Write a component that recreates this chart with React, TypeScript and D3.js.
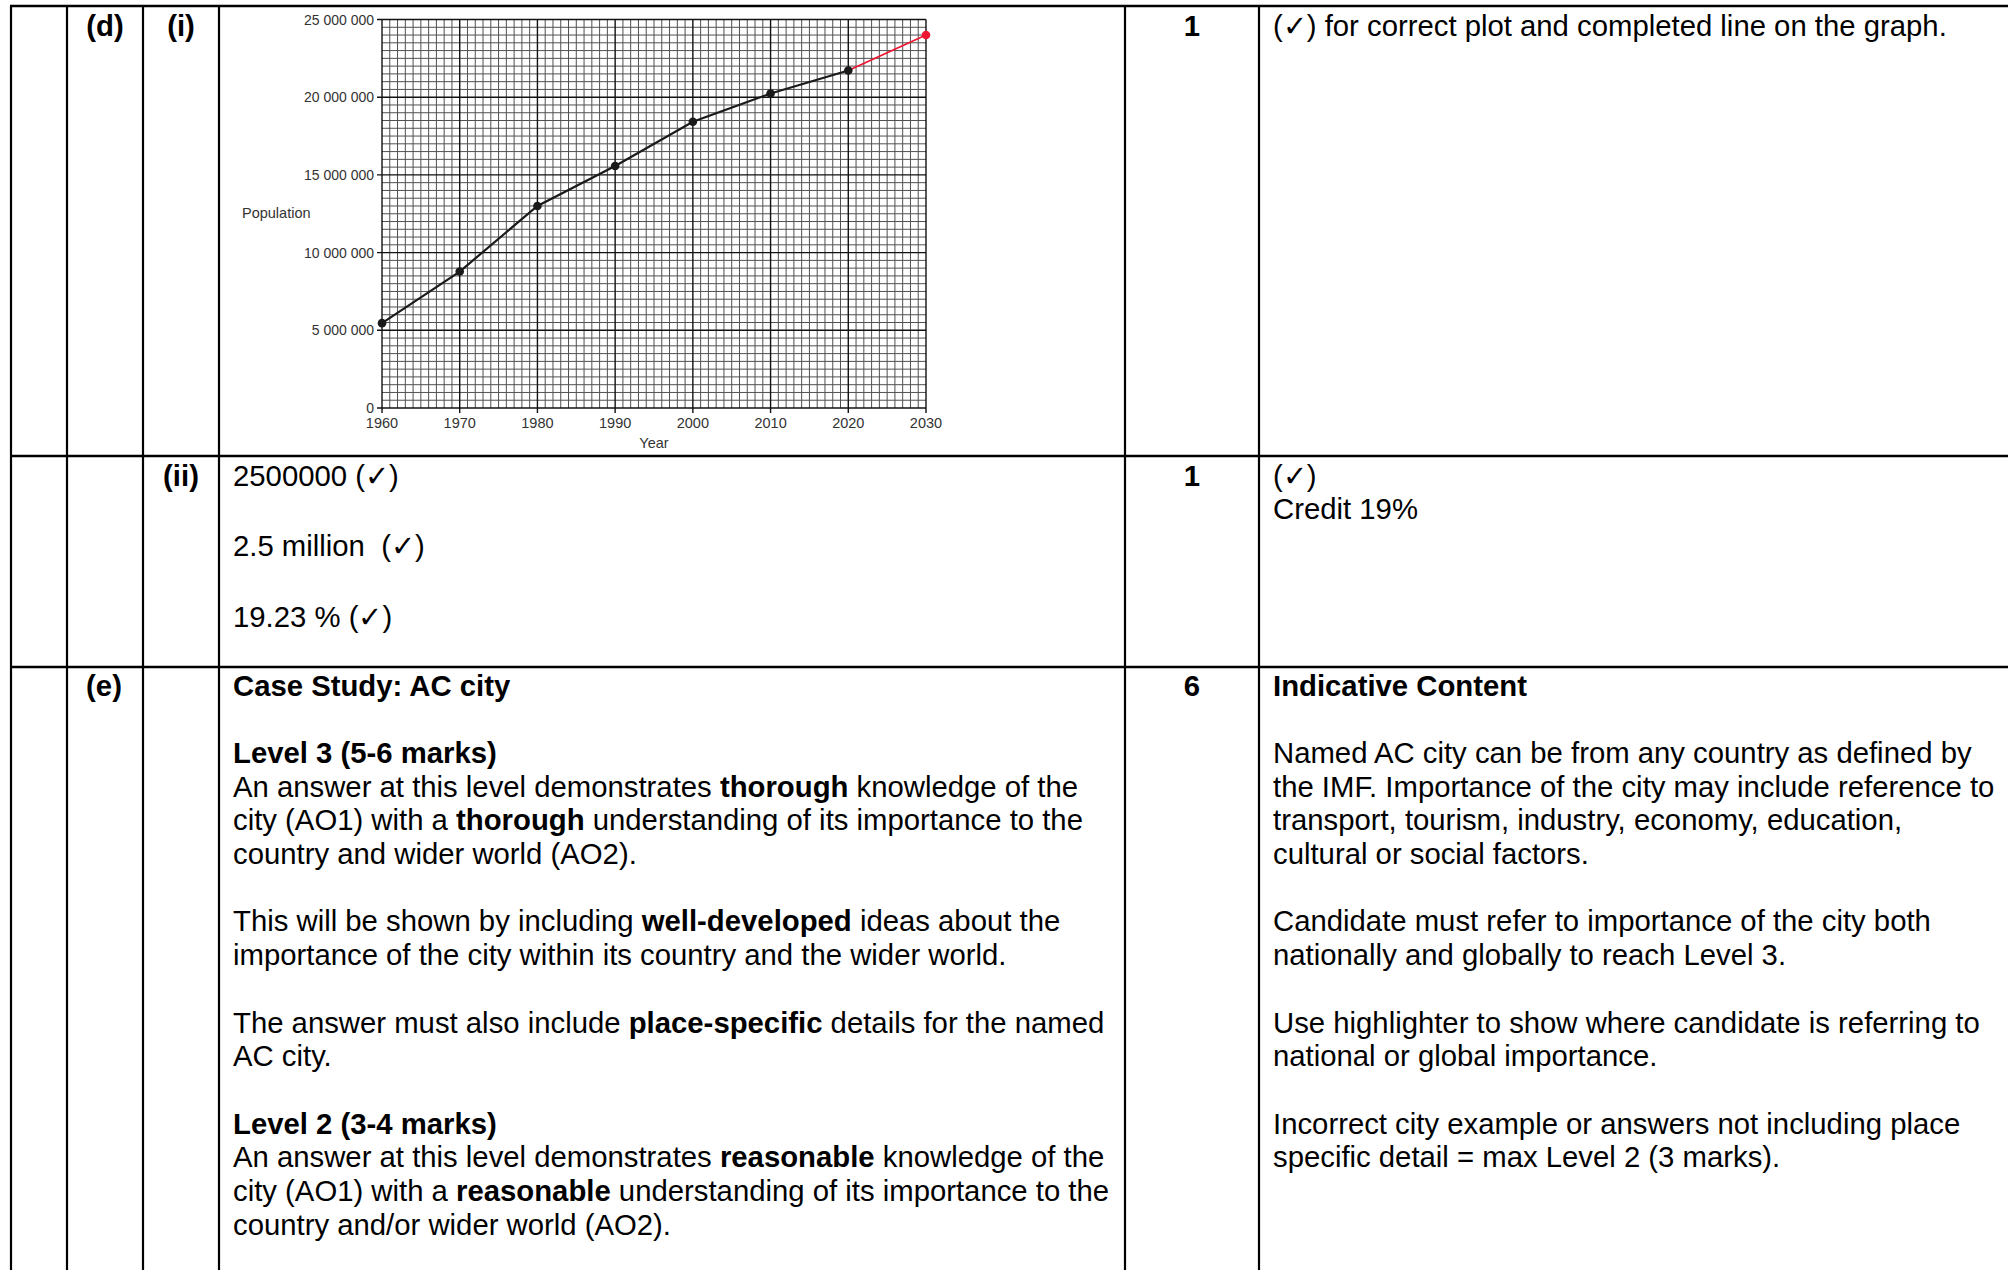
import React from "react";
import * as d3 from "d3";

// ---- chart data ----
const years = [1960, 1970, 1980, 1990, 2000, 2010, 2020];
const population = [5460000, 8780000, 13000000, 15570000, 18420000, 20240000, 21720000];
const projYears = [2020, 2030];
const projPopulation = [21720000, 24000000];
const xTicks = [1960, 1970, 1980, 1990, 2000, 2010, 2020, 2030];
const yTicks = [0, 5000000, 10000000, 15000000, 20000000, 25000000];

// ---- table text ----
const row1Marks = "1";
const row1Guidance = ["(✓) for correct plot and completed line on the graph."];
const row2Answers = ["2500000 (✓)", "2.5 million  (✓)", "19.23 % (✓)"];
const row2Guidance = ["(✓)", "Credit 19%"];
const row3Answer: [number, string][] = [
  [0, "**Case Study: AC city**"],
  [2, "**Level 3 (5-6 marks)**"],
  [3, "An answer at this level demonstrates **thorough** knowledge of the"],
  [4, "city (AO1) with a **thorough** understanding of its importance to the"],
  [5, "country and wider world (AO2)."],
  [7, "This will be shown by including **well-developed** ideas about the"],
  [8, "importance of the city within its country and the wider world."],
  [10, "The answer must also include **place-specific** details for the named"],
  [11, "AC city."],
  [13, "**Level 2 (3-4 marks)**"],
  [14, "An answer at this level demonstrates **reasonable** knowledge of the"],
  [15, "city (AO1) with a **reasonable** understanding of its importance to the"],
  [16, "country and/or wider world (AO2)."],
];
const row3Guidance: [number, string][] = [
  [0, "**Indicative Content**"],
  [2, "Named AC city can be from any country as defined by"],
  [3, "the IMF. Importance of the city may include reference to"],
  [4, "transport, tourism, industry, economy, education,"],
  [5, "cultural or social factors."],
  [7, "Candidate must refer to importance of the city both"],
  [8, "nationally and globally to reach Level 3."],
  [10, "Use highlighter to show where candidate is referring to"],
  [11, "national or global importance."],
  [13, "Incorrect city example or answers not including place"],
  [14, "specific detail = max Level 2 (3 marks)."],
];

const FONT = "'Liberation Sans', Arial, sans-serif";
const FS = 29.3;
const LH = 33.7;

function RichLine({ x, y, text, anchor }: { x: number; y: number; text: string; anchor?: string }) {
  const parts = text.split("**");
  return (
    <text x={x} y={y} fontFamily={FONT} fontSize={FS} fill="#000" textAnchor={anchor || "start"} xmlSpace="preserve" style={{ whiteSpace: "pre" }}>
      {parts.map((p, i) => (
        <tspan key={i} fontWeight={i % 2 === 1 ? "bold" : "normal"}>{p}</tspan>
      ))}
    </text>
  );
}

export default function App() {
  const W = 2008, H = 1270;
  const colX = [11, 67, 143, 219, 1125, 1259];
  const rowY = [6, 456, 667];

  const x = d3.scaleLinear().domain([1960, 2030]).range([382, 926]);
  const y = d3.scaleLinear().domain([0, 25000000]).range([408, 19.5]);

  const gridYears = d3.range(1960, 2031, 1);
  const gridVals = d3.range(0, 25000001, 500000);

  const line = d3.line<number>().x((_, i) => x(years[i])).y((d) => y(d));
  const projLine = d3.line<number>().x((_, i) => x(projYears[i])).y((d) => y(d));
  const fmt = (v: number) => d3.format(",")(v).replace(/,/g, " ");

  const r3base = 695.5;

  return (
    <svg width={W} height={H} style={{ position: "absolute", left: 0, top: 0, background: "#fff" }}>
      <rect x={0} y={0} width={W} height={H} fill="#fff" />

      {/* chart grid */}
      <g>
        {gridYears.filter((yr) => yr % 10 !== 0).map((yr) => (
          <line key={"vx" + yr} x1={x(yr)} x2={x(yr)} y1={y(25000000)} y2={y(0)} stroke="#505050" strokeWidth={1} />
        ))}
        {gridVals.filter((v) => v % 5000000 !== 0).map((v) => (
          <line key={"hy" + v} x1={x(1960)} x2={x(2030)} y1={y(v)} y2={y(v)} stroke="#505050" strokeWidth={1} />
        ))}
        {xTicks.map((yr) => (
          <line key={"VX" + yr} x1={x(yr)} x2={x(yr)} y1={y(25000000)} y2={y(0) + 5} stroke="#111" strokeWidth={1.4} />
        ))}
        {yTicks.map((v) => (
          <line key={"HY" + v} x1={x(1960) - 5} x2={x(2030)} y1={y(v)} y2={y(v)} stroke="#111" strokeWidth={1.4} />
        ))}
      </g>

      {/* axis labels */}
      {yTicks.map((v) => (
        <text key={"yl" + v} x={x(1960) - 8} y={y(v) + 5} textAnchor="end" fontFamily={FONT} fontSize={14} fill="#333" xmlSpace="preserve" style={{ whiteSpace: "pre" }}>
          {fmt(v)}
        </text>
      ))}
      {xTicks.map((yr) => (
        <text key={"xl" + yr} x={x(yr)} y={428} textAnchor="middle" fontFamily={FONT} fontSize={14.5} fill="#333">
          {yr}
        </text>
      ))}
      <text x={(x(1960) + x(2030)) / 2} y={448} textAnchor="middle" fontFamily={FONT} fontSize={14.5} fill="#333">Year</text>
      <text x={242} y={218} fontFamily={FONT} fontSize={14.5} fill="#333">Population</text>

      {/* data */}
      <path d={line(population) || ""} fill="none" stroke="#1a1a1a" strokeWidth={2.2} />
      <path d={projLine(projPopulation) || ""} fill="none" stroke="#ee1530" strokeWidth={1.8} />
      {population.map((v, i) => (
        <circle key={"p" + i} cx={x(years[i])} cy={y(v)} r={4.3} fill="#1a1a1a" />
      ))}
      <circle cx={x(projYears[1])} cy={y(projPopulation[1])} r={4.3} fill="#ee1530" />

      {/* table borders */}
      {[...rowY].map((ry, i) => (
        <line key={"r" + i} x1={colX[0] - 1} x2={W} y1={ry} y2={ry} stroke="#000" strokeWidth={2.6} />
      ))}
      {colX.map((cx, i) => (
        <line key={"c" + i} x1={cx} x2={cx} y1={rowY[0]} y2={H} stroke="#000" strokeWidth={2.2} />
      ))}

      {/* row 1 */}
      <text x={105} y={36} textAnchor="middle" fontFamily={FONT} fontSize={FS} fontWeight="bold">(d)</text>
      <text x={181} y={36} textAnchor="middle" fontFamily={FONT} fontSize={FS} fontWeight="bold">(i)</text>
      <text x={1192} y={36} textAnchor="middle" fontFamily={FONT} fontSize={FS} fontWeight="bold">{row1Marks}</text>
      {row1Guidance.map((t, i) => (
        <RichLine key={"g1" + i} x={1273} y={36 + i * LH} text={t} />
      ))}

      {/* row 2 */}
      <text x={181} y={485.5} textAnchor="middle" fontFamily={FONT} fontSize={FS} fontWeight="bold">(ii)</text>
      <text x={1192} y={485.5} textAnchor="middle" fontFamily={FONT} fontSize={FS} fontWeight="bold">1</text>
      {row2Answers.map((t, i) => (
        <RichLine key={"a2" + i} x={233} y={485.5 + i * 70.6} text={t} />
      ))}
      {row2Guidance.map((t, i) => (
        <RichLine key={"g2" + i} x={1273} y={485.5 + i * LH} text={t} />
      ))}

      {/* row 3 */}
      <text x={104} y={r3base} textAnchor="middle" fontFamily={FONT} fontSize={FS} fontWeight="bold">(e)</text>
      <text x={1192} y={r3base} textAnchor="middle" fontFamily={FONT} fontSize={FS} fontWeight="bold">6</text>
      {row3Answer.map(([idx, t]) => (
        <RichLine key={"a3" + idx} x={233} y={r3base + idx * LH} text={t} />
      ))}
      {row3Guidance.map(([idx, t]) => (
        <RichLine key={"g3" + idx} x={1273} y={r3base + idx * LH} text={t} />
      ))}
    </svg>
  );
}
